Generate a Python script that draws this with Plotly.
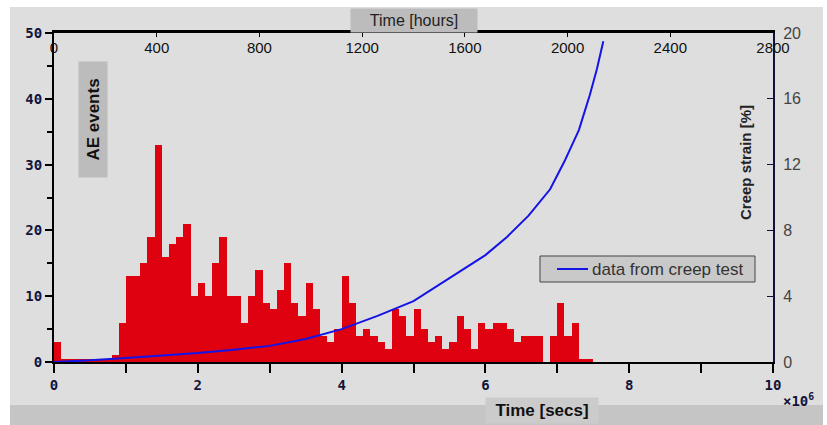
import plotly.graph_objects as go

# ---------------- data ----------------
# AE events histogram: counts per bin of 0.1 x 10^6 s, starting at t = 0
bin_width = 0.1  # x 10^6 s
ae_counts = [3, 0.5, 0.5, 0.5, 0.5, 0.5, 0.5, 0.5, 1, 6,
             13, 13, 15, 19, 33, 16, 18, 19, 21, 10,
             12, 10, 15, 19, 10, 10, 6, 10, 14, 9,
             8, 11, 15, 9, 7, 12, 8, 4, 3, 5,
             13, 9, 4, 5, 4, 3, 2, 8, 7, 4,
             8, 5, 3, 4, 2, 3, 7, 5, 2, 6,
             5, 6, 6, 5, 3, 4, 4, 4, 0, 4,
             9, 4, 6, 0.5, 0.5]
bin_centers = [bin_width * (i + 0.5) for i in range(len(ae_counts))]

# creep test curve (time in 10^6 s, strain in %)
creep_time = [0, 0.5, 1.0, 1.5, 2.0, 2.5, 3.0, 3.5, 4.0, 4.5, 5.0, 5.5,
              6.0, 6.3, 6.6, 6.9, 7.1, 7.3, 7.45, 7.55, 7.64]
creep_strain = [0, 0.1, 0.25, 0.4, 0.55, 0.75, 0.98, 1.4, 2.0, 2.8, 3.7, 5.1,
                6.5, 7.6, 8.9, 10.5, 12.2, 14.1, 16.2, 17.8, 19.5]

sec_ticks = [0, 2, 4, 6, 8, 10]
hour_ticks = [0, 400, 800, 1200, 1600, 2000, 2400, 2800]
ae_ticks = [0, 10, 20, 30, 40, 50]
strain_ticks = [0, 4, 8, 12, 16, 20]
legend_label = "data from creep test"

# ---------------- layout helpers ----------------
W, H = 827, 425
L, R, T, B = 54, 773, 33, 362


def px(x):
    return (x - L) / (R - L)


def py(y):
    return (B - y) / (B - T)


BLUE = "#1414e6"

fig = go.Figure()
fig.add_trace(go.Bar(x=bin_centers, y=ae_counts, width=bin_width,
                     marker=dict(color="#df0010", line=dict(width=0)),
                     showlegend=False, hoverinfo="skip", xaxis="x", yaxis="y"))
# invisible carrier so that the top (hours) axis is drawn
fig.add_trace(go.Scatter(x=hour_ticks, y=[None] * len(hour_ticks), mode="lines",
                         showlegend=False, hoverinfo="skip", xaxis="x2", yaxis="y"))
fig.add_trace(go.Scatter(x=creep_time, y=creep_strain, mode="lines",
                         line=dict(color=BLUE, width=2), showlegend=False,
                         name=legend_label, xaxis="x", yaxis="y2"))

mono = dict(family="DejaVu Sans Mono", size=14, color="#14143a", weight="bold")

fig.update_layout(
    width=W, height=H,
    margin=dict(l=L, r=W - R, t=T, b=H - B, pad=0),
    paper_bgcolor="white",
    plot_bgcolor="rgba(0,0,0,0)",
    bargap=0,
    showlegend=False,
    xaxis=dict(range=[0, 10], tickvals=sec_ticks, ticks="outside", ticklen=9,
               tickwidth=2, tickcolor="black", showline=True, linecolor="black",
               linewidth=2, showgrid=False, zeroline=False, tickfont=mono,
               minor=dict(ticks="outside", ticklen=9, tickwidth=2, dtick=1,
                          tickcolor="black", showgrid=False)),
    xaxis2=dict(range=[0, 2800], tickvals=hour_ticks, overlaying="x", side="top",
                anchor="y", ticks="inside", ticklen=4, tickwidth=1,
                tickcolor="black", ticklabelposition="outside",
                ticklabelstandoff=-29,
                showline=True, linecolor="black", linewidth=3, showgrid=False,
                zeroline=False,
                tickfont=dict(family="Liberation Sans", size=15, color="#111")),
    yaxis=dict(range=[0, 50], tickvals=ae_ticks, ticks="outside", ticklen=7,
               tickwidth=2, tickcolor="black", showline=True, linecolor="black",
               linewidth=2, showgrid=False, zeroline=False, tickfont=mono,
               minor=dict(ticks="outside", ticklen=5, tickwidth=2, dtick=5,
                          tickcolor="black", showgrid=False)),
    yaxis2=dict(range=[0, 20], tickvals=strain_ticks, overlaying="y", side="right",
                ticks="inside", ticklen=6, tickwidth=1, tickcolor="#101038",
                showline=True, linecolor="#101038", linewidth=2, showgrid=False,
                zeroline=False, ticklabelstandoff=5,
                tickfont=dict(family="Liberation Sans", size=16, color="#444")),
    shapes=[
        dict(type="rect", xref="paper", yref="paper", layer="below",
             x0=px(10), x1=px(823), y0=py(7), y1=py(425),
             fillcolor="#dedede", line=dict(width=0)),
        dict(type="rect", xref="paper", yref="paper", layer="below",
             x0=px(10), x1=px(823), y0=py(405), y1=py(425),
             fillcolor="#c5c5c5", line=dict(width=0)),
        # legend box and line sample
        dict(type="rect", xref="paper", yref="paper", layer="above",
             x0=px(540), x1=px(755), y0=py(256), y1=py(282),
             fillcolor="#c9c9c9", line=dict(color="#444", width=1)),
        dict(type="line", xref="paper", yref="paper", layer="above",
             x0=px(557), x1=px(588), y0=py(269), y1=py(269),
             line=dict(color=BLUE, width=2)),
    ],
    annotations=[
        dict(text=legend_label, xref="paper", yref="paper", x=px(590), y=py(269),
             xanchor="left", yanchor="middle", showarrow=False,
             font=dict(family="Liberation Sans", size=17, color="#333")),
        dict(text="Time [hours]", xref="paper", yref="paper", x=px(414), y=py(20),
             xanchor="center", yanchor="middle",
             showarrow=False, bgcolor="#bcbcbc", width=124, height=21,
             font=dict(family="Liberation Sans", size=16, color="#222")),
        dict(text="AE events", xref="paper", yref="paper", x=px(93), y=py(120),
             xanchor="center", yanchor="middle",
             showarrow=False, textangle=-90, bgcolor="#bcbcbc", width=113, height=26,
             font=dict(family="Liberation Sans", size=17, color="#111", weight="bold")),
        dict(text="Creep strain [%]", xref="paper", yref="paper", x=px(745), y=py(163),
             xanchor="center", yanchor="middle",
             showarrow=False, textangle=-90,
             font=dict(family="Liberation Sans", size=15, color="#222", weight="bold")),
        dict(text="Time [secs]", xref="paper", yref="paper", x=px(542), y=py(410),
             xanchor="center", yanchor="middle",
             showarrow=False, bgcolor="#cbcbcb", width=110, height=23,
             font=dict(family="Liberation Sans", size=17, color="#111", weight="bold")),
        dict(text="×10<sup>6</sup>", xref="paper", yref="paper", x=px(781), y=py(400),
             xanchor="left", yanchor="middle",
             showarrow=False,
             font=dict(family="DejaVu Sans Mono", size=14, color="#14143a", weight="bold")),
    ],
)

fig.write_html("out.html", config={"displayModeBar": False},
               post_script="document.body.style.margin='0px';")
